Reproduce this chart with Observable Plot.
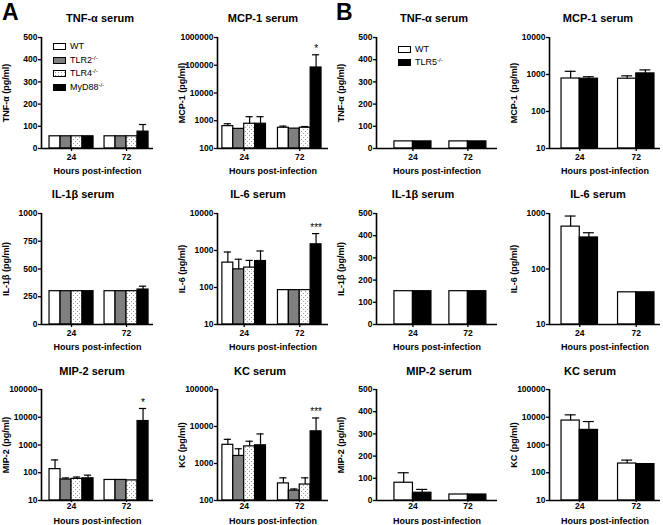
<!DOCTYPE html>
<html><head><meta charset="utf-8">
<script src="https://cdn.jsdelivr.net/npm/d3@7"></script>
<script src="https://cdn.jsdelivr.net/npm/@observablehq/plot@0.6"></script>
<style>
body{margin:0;background:#fff;}
#fig{position:relative;width:663px;height:525px;overflow:hidden;background:#fff;font-family:"Liberation Sans",Arial,sans-serif;color:#000;}
#fig svg{position:absolute;}
.title{position:absolute;font-size:11px;font-weight:bold;transform:translate(-50%,-50%);white-space:nowrap;}
.letter{position:absolute;font-size:23px;font-weight:bold;line-height:1;}
.lg{position:absolute;font-size:9px;white-space:nowrap;line-height:1;}
.lg .box{position:absolute;width:13px;height:7px;box-sizing:border-box;border:1px solid #000;}
.lg .txt{position:absolute;left:17px;top:-1px;}
.lg sup{font-size:6px;vertical-align:3px;line-height:0;}
</style></head><body><div id="fig"></div>
<script>
// ---------------- data ----------------
const hours = ["24", "72"];
const genotypesA = ["WT", "TLR2-/-", "TLR4-/-", "MyD88-/-"];
const genotypesB = ["WT", "TLR5-/-"];

const ticks500 = [0, 100, 200, 300, 400, 500];
const ticks1000 = [0, 250, 500, 750, 1000];
const ticksLog100to1e6 = [100, 1000, 10000, 100000, 1000000];
const ticksLog10to1e4 = [10, 100, 1000, 10000];
const ticksLog10to1e5 = [10, 100, 1000, 10000, 100000];
const ticksLog100to1e5 = [100, 1000, 10000, 100000];
const ticksLog10to1e3 = [10, 100, 1000];

// values ordered: 24h (each genotype), then 72h (each genotype); sem = upper error bar
const tnfA_mean = [55, 55, 55, 55, 55, 55, 55, 76];
const tnfA_sem  = [0, 0, 0, 0, 0, 0, 0, 32];
const mcp1A_mean = [640, 510, 780, 780, 560, 520, 560, 83000];
const mcp1A_sem  = [140, 0, 620, 620, 80, 0, 60, 155000];
const mcp1A_sig  = ["", "", "", "", "", "", "", "*"];
const il1bA_mean = [300, 300, 300, 300, 300, 300, 300, 315];
const il1bA_sem  = [0, 0, 0, 0, 0, 0, 0, 30];
const il6A_mean = [470, 310, 345, 520, 85, 85, 85, 1470];
const il6A_sem  = [440, 270, 195, 450, 0, 0, 0, 1390];
const il6A_sig  = ["", "", "", "", "", "", "", "***"];
const mip2A_mean = [135, 57, 60, 63, 55, 55, 53, 7300];
const mip2A_sem  = [155, 8, 10, 19, 0, 0, 0, 13400];
const mip2A_sig  = ["", "", "", "", "", "", "", "*"];
const kcA_mean = [3200, 1600, 2900, 3100, 290, 185, 270, 7400];
const kcA_sem  = [1300, 900, 1100, 3200, 120, 20, 140, 9600];
const kcA_sig  = ["", "", "", "", "", "", "", "***"];

const tnfB_mean = [32, 32, 32, 32];
const tnfB_sem  = [0, 0, 0, 0];
const mcp1B_mean = [780, 770, 770, 1070];
const mcp1B_sem  = [440, 100, 150, 260];
const il1bB_mean = [150, 150, 150, 150];
const il1bB_sem  = [0, 0, 0, 0];
const il6B_mean = [580, 370, 38, 38];
const il6B_sem  = [320, 80, 0, 0];
const mip2B_mean = [80, 35, 27, 27];
const mip2B_sem  = [45, 15, 0, 0];
const kcB_mean = [7600, 3500, 215, 205];
const kcB_sem  = [4600, 3500, 70, 0];

// ---------------- layout ----------------
const cols = [
  {axisX: 41, end: 153, pL: 0.73, gap: 1.0, pR: 0.45},
  {axisX: 217, end: 328, pL: 0.45, gap: 1.1, pR: 0.64},
  {axisX: 376, end: 497, pL: 0.97, gap: 0.97, pR: 0.6},
  {axisX: 549, end: 660, pL: 0.66, gap: 1.1, pR: 0.33}
];
const rows = [
  {yTop: 37, yBottom: 148, ty: 18, tickSize: 3, tickPad: 2, labelOffset: 25},
  {yTop: 213, yBottom: 324, ty: 194, tickSize: 3, tickPad: 2, labelOffset: 25},
  {yTop: 389, yBottom: 500, ty: 371, tickSize: 2, tickPad: 0, labelOffset: 23}
];

const panels = [
  {set: "A", col: 0, row: 0, title: "TNF-α serum", tx: 100, label: "TNF-α (pg/ml)", type: "linear", domain: [0, 500], ticks: ticks500, mean: tnfA_mean, sem: tnfA_sem},
  {set: "A", col: 1, row: 0, title: "MCP-1 serum", tx: 263, label: "MCP-1 (pg/ml)", type: "log", domain: [100, 1000000], ticks: ticksLog100to1e6, mean: mcp1A_mean, sem: mcp1A_sem, sig: mcp1A_sig},
  {set: "B", col: 2, row: 0, title: "TNF-α serum", tx: 434, label: "TNF-α (pg/ml)", type: "linear", domain: [0, 500], ticks: ticks500, mean: tnfB_mean, sem: tnfB_sem},
  {set: "B", col: 3, row: 0, title: "MCP-1 serum", tx: 598, label: "MCP-1 (pg/ml)", type: "log", domain: [10, 10000], ticks: ticksLog10to1e4, mean: mcp1B_mean, sem: mcp1B_sem},
  {set: "A", col: 0, row: 1, title: "IL-1β serum", tx: 83, label: "IL-1β (pg/ml)", type: "linear", domain: [0, 1000], ticks: ticks1000, mean: il1bA_mean, sem: il1bA_sem},
  {set: "A", col: 1, row: 1, title: "IL-6 serum", tx: 258, label: "IL-6 (pg/ml)", type: "log", domain: [10, 10000], ticks: ticksLog10to1e4, mean: il6A_mean, sem: il6A_sem, sig: il6A_sig},
  {set: "B", col: 2, row: 1, title: "IL-1β serum", tx: 423, label: "IL-1β (pg/ml)", type: "linear", domain: [0, 500], ticks: ticks500, mean: il1bB_mean, sem: il1bB_sem},
  {set: "B", col: 3, row: 1, title: "IL-6 serum", tx: 598, label: "IL-6 (pg/ml)", type: "log", domain: [10, 1000], ticks: ticksLog10to1e3, mean: il6B_mean, sem: il6B_sem},
  {set: "A", col: 0, row: 2, title: "MIP-2 serum", tx: 92, label: "MIP-2 (pg/ml)", type: "log", domain: [10, 100000], ticks: ticksLog10to1e5, mean: mip2A_mean, sem: mip2A_sem, sig: mip2A_sig},
  {set: "A", col: 1, row: 2, title: "KC serum", tx: 260, label: "KC (pg/ml)", type: "log", domain: [100, 100000], ticks: ticksLog100to1e5, mean: kcA_mean, sem: kcA_sem, sig: kcA_sig},
  {set: "B", col: 2, row: 2, title: "MIP-2 serum", tx: 439, label: "MIP-2 (pg/ml)", type: "linear", domain: [0, 500], ticks: ticks500, mean: mip2B_mean, sem: mip2B_sem},
  {set: "B", col: 3, row: 2, title: "KC serum", tx: 590, label: "KC (pg/ml)", type: "log", domain: [10, 100000], ticks: ticksLog10to1e5, mean: kcB_mean, sem: kcB_sem}
];

const ML = 50, MR = 6, MT = 12, MB = 32;
const fig = document.getElementById("fig");
const font = '"Liberation Sans", Arial, sans-serif';

panels.forEach((p, pi) => {
  const c = cols[p.col], r = rows[p.row];
  const genos = p.set === "A" ? genotypesA : genotypesB;
  const n = genos.length;
  const patId = "dots" + pi;
  const fills = p.set === "A" ? ["white", "#808080", `url(#${patId})`, "black"] : ["white", "black"];
  const data = [];
  hours.forEach((h, gi) => genos.forEach((g, k) => {
    const i = gi * n + k;
    const x1 = c.pL + gi * (n + c.gap) + k;
    data.push({h, g, x1, x2: x1 + 1, xc: x1 + 0.5, v: p.mean[i], sem: p.sem[i], top: p.mean[i] + p.sem[i], sig: p.sig ? p.sig[i] : ""});
  }));
  const centers = hours.map((h, gi) => c.pL + gi * (n + c.gap) + n / 2);
  const xEnd = c.pL + 2 * n + c.gap + c.pR;
  const base = p.domain[0];
  const errs = data.filter(d => d.sem > 0);
  const capHalf = p.set === "A" ? 0.33 : 0.3;
  const innerW = c.end - c.axisX, innerH = r.yBottom - r.yTop;
  const svg = Plot.plot({
    width: ML + innerW + MR,
    height: MT + innerH + MB,
    marginLeft: ML, marginRight: MR, marginTop: MT, marginBottom: MB,
    style: {fontFamily: font, fontSize: "8.5px", fontWeight: "bold", background: "transparent", overflow: "visible", color: "black"},
    x: {type: "linear", domain: [0, xEnd], axis: null},
    y: {type: p.type, domain: p.domain, axis: null},
    color: {type: "ordinal", domain: genos, range: fills},
    marks: [
      Plot.rectY(data, {x1: "x1", x2: "x2", y1: base, y2: "v", fill: "g", stroke: "black", strokeWidth: 1.2}),
      Plot.ruleX(errs, {x: "xc", y1: "v", y2: "top", stroke: "black", strokeWidth: 1.2}),
      Plot.ruleY(errs, {y: "top", x1: d => d.xc - capHalf, x2: d => d.xc + capHalf, stroke: "black", strokeWidth: 1.2}),
      Plot.text(data.filter(d => d.sig), {x: "xc", y: "top", text: "sig", dy: -6, fontSize: 10, fontWeight: "normal", fill: "black"}),
      Plot.ruleY([base], {stroke: "black", strokeWidth: 1.6}),
      Plot.ruleX([0], {stroke: "black", strokeWidth: 1.6}),
      Plot.axisY({ticks: p.ticks, tickFormat: d3.format("d"), tickSize: 3, tickPadding: 1, strokeWidth: 1.3,
        label: p.label, labelAnchor: "center", labelArrow: "none", labelOffset: 39, fontSize: 8.5}),
      Plot.axisX({ticks: centers, tickFormat: d => hours[centers.indexOf(d)], tickSize: r.tickSize, tickPadding: r.tickPad, strokeWidth: 1.3,
        label: "Hours post-infection", labelAnchor: "center", labelArrow: "none", labelOffset: r.labelOffset, fontSize: 8.5})
    ]
  });
  // enlarge the axis labels slightly (title-like texts of the axes)
  d3.select(svg).selectAll("g[aria-label='y-axis label'] text, g[aria-label='x-axis label'] text").attr("font-size", 9).style("font-size", "9px");
  const defs = d3.select(svg).insert("defs", ":first-child");
  const pat = defs.append("pattern").attr("id", patId).attr("width", 4).attr("height", 4).attr("patternUnits", "userSpaceOnUse");
  pat.append("rect").attr("width", 4).attr("height", 4).attr("fill", "white");
  pat.append("rect").attr("x", 0).attr("y", 0).attr("width", 1).attr("height", 1).attr("fill", "#9a9a9a");
  pat.append("rect").attr("x", 2).attr("y", 2).attr("width", 1).attr("height", 1).attr("fill", "#9a9a9a");
  svg.style.left = (c.axisX - ML) + "px";
  svg.style.top = (r.yTop - MT) + "px";
  fig.appendChild(svg);

  const t = document.createElement("div");
  t.className = "title";
  t.textContent = p.title;
  t.style.left = p.tx + "px";
  t.style.top = r.ty + "px";
  fig.appendChild(t);
});

// panel letters
[["A", 2, 1], ["B", 336, 1]].forEach(([s, x, y]) => {
  const d = document.createElement("div");
  d.className = "letter"; d.textContent = s;
  d.style.left = x + "px"; d.style.top = y + "px";
  fig.appendChild(d);
});

// legends
function legend(genos, fillsCss, x, y0, step) {
  genos.forEach((g, i) => {
    const d = document.createElement("div");
    d.className = "lg";
    d.style.left = x + "px"; d.style.top = (y0 + i * step) + "px";
    const box = document.createElement("div");
    box.className = "box"; box.style.background = fillsCss[i];
    const txt = document.createElement("div");
    txt.className = "txt";
    const m = g.match(/^(.*?)(-\/-)?$/);
    txt.textContent = m[1];
    if (m[2]) { const s = document.createElement("sup"); s.textContent = m[2]; txt.appendChild(s); }
    d.appendChild(box); d.appendChild(txt);
    fig.appendChild(d);
  });
}
const dotsCss = "radial-gradient(circle, #9a9a9a 0.6px, transparent 0.9px) 0 0/3px 3px, white";
legend(genotypesA, ["white", "#808080", dotsCss, "black"], 53, 43, 13.7);
legend(genotypesB, ["white", "black"], 398, 46, 13);
</script></body></html>
